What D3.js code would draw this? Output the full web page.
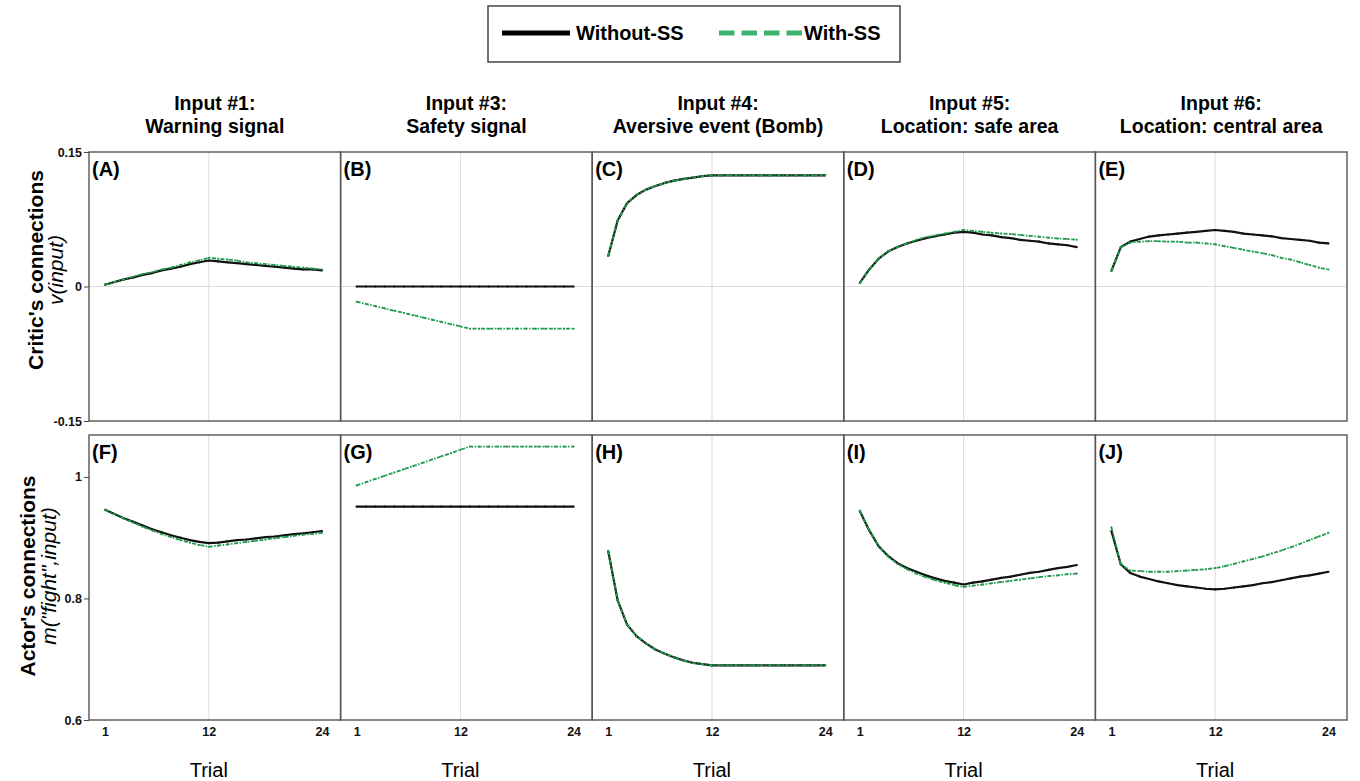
<!DOCTYPE html>
<html><head><meta charset="utf-8">
<script src="https://cdn.jsdelivr.net/npm/d3@7"></script>
<style>body{margin:0;background:#fff}svg{display:block;font-family:"Liberation Sans",Arial,sans-serif}</style>
</head><body><svg id="c" width="1360" height="781"></svg>
<script>
const trials = [1,2,3,4,5,6,7,8,9,10,11,12,13,14,15,16,17,18,19,20,21,22,23,24];
const xTicks = [1,12,24];
const topTicks = [0.15,0,-0.15];
const topTickLabels = ["0.15","0","-0.15"];
const bottomTicks = [1,0.8,0.6];
const bottomTickLabels = ["1","0.8","0.6"];
const titleLine1 = ["Input #1:","Input #3:","Input #4:","Input #5:","Input #6:"];
const titleLine2 = ["Warning signal","Safety signal","Aversive event (Bomb)","Location: safe area","Location: central area"];
const topLetters = ["(A)","(B)","(C)","(D)","(E)"];
const bottomLetters = ["(F)","(G)","(H)","(I)","(J)"];
const seriesNames = ["Without-SS","With-SS"];

// Critic's connections v(input)
const withoutA = [0.002,0.005,0.008,0.010,0.013,0.015,0.018,0.020,0.022,0.025,0.027,0.029,0.028,0.027,0.026,0.025,0.024,0.023,0.022,0.021,0.020,0.019,0.019,0.018];
const withA    = [0.002,0.005,0.008,0.011,0.014,0.016,0.019,0.021,0.024,0.027,0.029,0.032,0.031,0.030,0.029,0.027,0.026,0.025,0.024,0.023,0.022,0.021,0.020,0.019];
const withoutB = [0,0,0,0,0,0,0,0,0,0,0,0,0,0,0,0,0,0,0,0,0,0,0,0];
const withB    = [-0.017,-0.0195,-0.022,-0.0245,-0.027,-0.0295,-0.032,-0.0345,-0.037,-0.0395,-0.042,-0.0445,-0.047,-0.047,-0.047,-0.047,-0.047,-0.047,-0.047,-0.047,-0.047,-0.047,-0.047,-0.047];
const withoutC = [0.034,0.0735,0.093,0.102,0.108,0.112,0.1155,0.118,0.120,0.1215,0.123,0.124,0.124,0.124,0.124,0.124,0.124,0.124,0.124,0.124,0.124,0.124,0.124,0.124];
const withC    = [0.034,0.0735,0.093,0.102,0.108,0.112,0.1155,0.118,0.120,0.1215,0.123,0.124,0.124,0.124,0.124,0.124,0.124,0.124,0.124,0.124,0.124,0.124,0.124,0.124];
const withoutD = [0.004,0.019,0.031,0.039,0.044,0.048,0.051,0.054,0.056,0.058,0.060,0.061,0.060,0.058,0.057,0.055,0.054,0.052,0.051,0.050,0.048,0.047,0.046,0.044];
const withD    = [0.004,0.019,0.031,0.039,0.044,0.048,0.052,0.055,0.057,0.059,0.061,0.063,0.062,0.061,0.060,0.059,0.0585,0.0575,0.0565,0.0555,0.0545,0.0535,0.053,0.052];
const withoutE = [0.0175,0.044,0.050,0.053,0.0557,0.057,0.058,0.059,0.060,0.061,0.062,0.063,0.062,0.061,0.059,0.058,0.057,0.056,0.054,0.053,0.052,0.051,0.049,0.048];
const withE    = [0.0175,0.044,0.049,0.050,0.0505,0.0505,0.050,0.050,0.049,0.049,0.048,0.047,0.045,0.043,0.041,0.039,0.037,0.035,0.032,0.030,0.027,0.024,0.021,0.019];

// Actor's connections m("fight",input)
const withoutF = [0.946,0.939,0.932,0.926,0.920,0.914,0.909,0.904,0.900,0.896,0.893,0.891,0.892,0.894,0.896,0.897,0.899,0.901,0.902,0.904,0.906,0.907,0.909,0.911];
const withF    = [0.946,0.939,0.932,0.925,0.918,0.912,0.906,0.901,0.896,0.892,0.888,0.885,0.887,0.889,0.891,0.893,0.895,0.897,0.899,0.901,0.903,0.905,0.906,0.908];
const withoutG = [0.951,0.951,0.951,0.951,0.951,0.951,0.951,0.951,0.951,0.951,0.951,0.951,0.951,0.951,0.951,0.951,0.951,0.951,0.951,0.951,0.951,0.951,0.951,0.951];
const withG    = [0.986,0.9913,0.9967,1.002,1.0073,1.0127,1.018,1.0233,1.0287,1.034,1.0393,1.0447,1.050,1.050,1.050,1.050,1.050,1.050,1.050,1.050,1.050,1.050,1.050,1.050];
const withoutH = [0.878,0.797,0.757,0.738,0.726,0.716,0.709,0.703,0.698,0.694,0.692,0.690,0.690,0.690,0.690,0.690,0.690,0.690,0.690,0.690,0.690,0.690,0.690,0.690];
const withH    = [0.878,0.797,0.757,0.738,0.726,0.716,0.709,0.703,0.698,0.694,0.692,0.690,0.690,0.690,0.690,0.690,0.690,0.690,0.690,0.690,0.690,0.690,0.690,0.690];
const withoutI = [0.944,0.912,0.886,0.870,0.858,0.850,0.844,0.838,0.833,0.829,0.826,0.823,0.826,0.828,0.831,0.834,0.836,0.839,0.842,0.844,0.847,0.850,0.852,0.855];
const withI    = [0.944,0.912,0.886,0.869,0.857,0.848,0.841,0.835,0.830,0.826,0.822,0.819,0.821,0.823,0.825,0.827,0.829,0.831,0.833,0.835,0.837,0.838,0.840,0.841];
const withoutJ = [0.911,0.856,0.842,0.836,0.832,0.828,0.825,0.822,0.820,0.818,0.816,0.815,0.816,0.818,0.820,0.822,0.825,0.827,0.830,0.833,0.836,0.838,0.841,0.844];
const withJ    = [0.917,0.856,0.846,0.845,0.844,0.844,0.844,0.845,0.846,0.847,0.848,0.850,0.853,0.857,0.861,0.865,0.869,0.874,0.879,0.884,0.890,0.896,0.902,0.908];

const topRow = [[withoutA,withA],[withoutB,withB],[withoutC,withC],[withoutD,withD],[withoutE,withE]];
const bottomRow = [[withoutF,withF],[withoutG,withG],[withoutH,withH],[withoutI,withI],[withoutJ,withJ]];

const svg = d3.select("#c");
const left = 89, right = 1347, nCols = 5;
const colW = (right-left)/nCols;
const BLACK = "#111", GREEN = "#1f9a4c", LEGGREEN = "#3cb371", BORDER = "#555", GRID = "#dcdcdc";

const yTop = d3.scaleLinear().domain([-0.15,0.15]).range([421,152]);
const yBot = d3.scaleLinear().domain([0.6,1.069]).range([720,435]);

// Legend
const leg = svg.append("g");
leg.append("rect").attr("x",488).attr("y",6).attr("width",412).attr("height",56)
  .attr("fill","#fff").attr("stroke","#444").attr("stroke-width",1.5);
leg.append("line").attr("x1",502).attr("x2",570).attr("y1",33).attr("y2",33)
  .attr("stroke","#000").attr("stroke-width",5);
leg.append("text").attr("x",576).attr("y",40).attr("font-size",20).attr("font-weight","bold").text(seriesNames[0]);
leg.append("line").attr("x1",719).attr("x2",802).attr("y1",33).attr("y2",33)
  .attr("stroke",LEGGREEN).attr("stroke-width",5).attr("stroke-dasharray","15.5,7");
leg.append("text").attr("x",804).attr("y",40).attr("font-size",20).attr("font-weight","bold").text(seriesNames[1]);

// Column titles
for (let i=0;i<nCols;i++){
  const cx = left + colW*i + colW/2;
  svg.append("text").attr("x",cx).attr("y",110).attr("text-anchor","middle")
    .attr("font-size",19.5).attr("font-weight","bold").text(titleLine1[i]);
  svg.append("text").attr("x",cx).attr("y",133).attr("text-anchor","middle")
    .attr("font-size",19.5).attr("font-weight","bold").text(titleLine2[i]);
}

function drawPanel(i, y, data, letter, showX){
  const x0 = left + colW*i, x1 = x0 + colW;
  const x = d3.scaleLinear().domain([1,24]).range([x0+16, x0+233]);
  const [ya, yb] = y.range();
  const g = svg.append("g");
  g.append("line").attr("x1",x(12)).attr("x2",x(12)).attr("y1",yb).attr("y2",ya)
    .attr("stroke",GRID).attr("stroke-width",1);
  if (y === yTop){
    g.append("line").attr("x1",x0).attr("x2",x1).attr("y1",y(0)).attr("y2",y(0))
      .attr("stroke",GRID).attr("stroke-width",1);
  }
  const line = d3.line().x((d,k)=>x(trials[k])).y(d=>y(d));
  g.append("path").attr("d",line(data[0])).attr("fill","none")
    .attr("stroke",BLACK).attr("stroke-width",2.2).attr("stroke-linejoin","round");
  g.selectAll(null).data(data[0]).join("circle").attr("cx",(d,k)=>x(trials[k])).attr("cy",d=>y(d))
    .attr("r",1.1).attr("fill",BLACK);
  g.append("path").attr("d",line(data[1])).attr("fill","none")
    .attr("stroke",GREEN).attr("stroke-width",1.8).attr("stroke-dasharray","4,1.5,1.5,1.5");
  g.selectAll(null).data(data[1]).join("circle").attr("cx",(d,k)=>x(trials[k])).attr("cy",d=>y(d))
    .attr("r",1).attr("fill",GREEN);
  g.append("rect").attr("x",x0).attr("y",yb).attr("width",colW).attr("height",ya-yb)
    .attr("fill","none").attr("stroke",BORDER).attr("stroke-width",1.4);
  g.append("text").attr("x",x0+3).attr("y",yb+24).attr("font-size",20).attr("font-weight","bold").text(letter);
  if (showX){
    const ax = d3.axisBottom(x).tickValues(xTicks).tickSize(0).tickPadding(0).tickFormat(d3.format("d"));
    const a = g.append("g").attr("transform",`translate(0,${ya+7})`).call(ax);
    a.select(".domain").remove();
    a.selectAll("text").attr("font-size",12.5).attr("font-weight","bold").attr("fill","#111")
      .attr("font-family","'Liberation Sans',Arial,sans-serif");
    g.append("text").attr("x",x(12)).attr("y",777).attr("text-anchor","middle")
      .attr("font-size",20).text("Trial");
  }
}

for (let i=0;i<nCols;i++){
  drawPanel(i, yTop, topRow[i], topLetters[i], false);
  drawPanel(i, yBot, bottomRow[i], bottomLetters[i], true);
}

function yAxis(y, ticks, labels){
  const ax = d3.axisLeft(y).tickValues(ticks).tickSize(5).tickPadding(2)
    .tickFormat((d,k)=>labels[k]);
  const a = svg.append("g").attr("transform",`translate(${left},0)`).call(ax);
  a.select(".domain").remove();
  a.selectAll("line").attr("stroke","#444");
  a.selectAll("text").attr("font-size",12.5).attr("font-weight","bold").attr("fill","#111")
    .attr("font-family","'Liberation Sans',Arial,sans-serif");
}
yAxis(yTop, topTicks, topTickLabels);
yAxis(yBot, bottomTicks, bottomTickLabels);

function rowLabel(cy, xb, xi, bold, ital){
  svg.append("text").attr("transform",`translate(${xb},${cy}) rotate(-90)`).attr("text-anchor","middle")
    .attr("font-size",21).attr("font-weight","bold").text(bold);
  svg.append("text").attr("transform",`translate(${xi},${cy}) rotate(-90)`).attr("text-anchor","middle")
    .attr("font-size",21).attr("font-style","italic").text(ital);
}
rowLabel(270, 43, 63, "Critic's connections", "v(input)");
rowLabel(576, 35, 56, "Actor's connections", "m(\"fight\",input)");
</script></body></html>
